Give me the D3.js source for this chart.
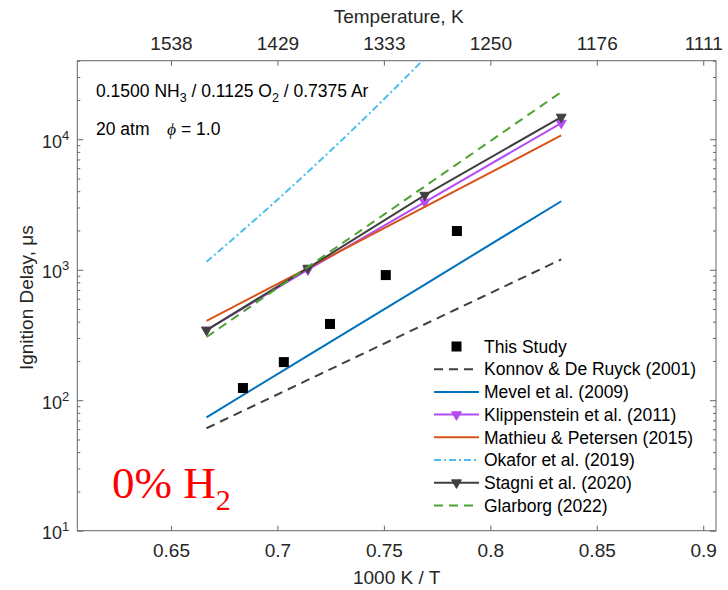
<!DOCTYPE html>
<html><head><meta charset="utf-8">
<script src="https://cdn.jsdelivr.net/npm/d3@7"></script>
<style>body{margin:0;background:#fff} svg{display:block}</style>
</head><body><svg id="c" width="728" height="590"></svg>
<script>
// ---------------- data ----------------
const invT = [0.6667, 0.7143, 0.7692, 0.8333];           // 1000 K / T (T = 1500, 1400, 1300, 1200 K)
const konnov = [61, 143, 382, 1200];
const mevel = [74, 220, 770, 3350];
const klippenstein = [345, 1000, 3300, 13300];
const mathieu = [405, 1030, 3030, 10700];
const stagni = [345, 1030, 3730, 14800];
const glarborg = [305, 1050, 4350, 23000];
const okaforInvT = [0.6667, 0.7, 0.7333, 0.7667, 0.8, 0.8333];
const okafor = [1150, 3440, 11000, 38000, 140000, 552000];
const expInvT = [0.6838, 0.7030, 0.7247, 0.7509, 0.7843];
const expTau = [124, 196, 384, 910, 1980];
const xTicks = [0.65, 0.7, 0.75, 0.8, 0.85, 0.9];
const xTickLabels = ["0.65", "0.7", "0.75", "0.8", "0.85", "0.9"];
const tempTickLabels = ["1538", "1429", "1333", "1250", "1176", "1111"];
const yTicks = [10, 100, 1000, 10000];
const yTickExps = ["1", "2", "3", "4"];
const legendNames = ["This Study", "Konnov & De Ruyck (2001)", "Mevel et al. (2009)", "Klippenstein et al. (2011)",
  "Mathieu & Petersen (2015)", "Okafor et al. (2019)", "Stagni et al. (2020)", "Glarborg (2022)"];

// ---------------- layout ----------------
const svg = d3.select("#c");
const pL = 77.3, pR = 716, pT = 60.7, pB = 530.7;
const x = d3.scaleLinear().domain([0.606, 0.906]).range([pL, pR]);
const y = d3.scaleLog().domain([10, 40000]).range([pB, pT]);
const font = "'Liberation Sans', Arial, Helvetica, sans-serif";
const serif = "'Liberation Serif', 'Times New Roman', serif";
const axisCol = "#666666", textCol = "#262626";

const series = [
  {name: legendNames[1], xs: invT, ys: konnov, color: "#404040", dash: "9,6"},
  {name: legendNames[2], xs: invT, ys: mevel, color: "#0072BD", dash: null},
  {name: legendNames[3], xs: invT, ys: klippenstein, color: "#B44CF5", dash: null, marker: true},
  {name: legendNames[4], xs: invT, ys: mathieu, color: "#D95319", dash: null},
  {name: legendNames[5], xs: okaforInvT, ys: okafor, color: "#4DBEEE", dash: "7,3,2,3", smooth: true},
  {name: legendNames[6], xs: invT, ys: stagni, color: "#404040", dash: null, marker: true},
  {name: legendNames[7], xs: invT, ys: glarborg, color: "#4DA331", dash: "9,6"}
];

svg.append("defs").append("clipPath").attr("id", "clip")
  .append("rect").attr("x", pL).attr("y", pT).attr("width", pR - pL).attr("height", pB - pT);

// ---------------- axes ----------------
function styleAxis(g) {
  g.select(".domain").remove();
  g.selectAll(".tick line").attr("stroke", axisCol).attr("stroke-width", 1);
  g.selectAll("text").attr("fill", textCol).style("font-family", font);
}
const bottomAx = svg.append("g").attr("transform", `translate(0,${pB})`)
  .call(d3.axisBottom(x).tickValues(xTicks).tickFormat((d, i) => xTickLabels[i]).tickSize(-5).tickPadding(13))
  .call(styleAxis);
bottomAx.selectAll("text").style("font-size", "19px");

const topAx = svg.append("g").attr("transform", `translate(0,${pT})`)
  .call(d3.axisTop(x).tickValues(xTicks).tickFormat((d, i) => tempTickLabels[i]).tickSize(-5).tickPadding(11))
  .call(styleAxis);
topAx.selectAll("text").style("font-size", "19px");

const minorY = [];
for (let e = 1; e <= 4; e++) for (let m = 2; m <= 9; m++) { const v = m * Math.pow(10, e); if (v <= 40000) minorY.push(v); }

const leftAx = svg.append("g").attr("transform", `translate(${pL},0)`)
  .call(d3.axisLeft(y).tickValues(yTicks).tickFormat("").tickSize(-6)).call(styleAxis);
svg.append("g").attr("transform", `translate(${pL},0)`)
  .call(d3.axisLeft(y).tickValues(minorY).tickFormat("").tickSize(-3)).call(styleAxis);
svg.append("g").attr("transform", `translate(${pR},0)`)
  .call(d3.axisRight(y).tickValues(yTicks).tickFormat("").tickSize(-6)).call(styleAxis);
svg.append("g").attr("transform", `translate(${pR},0)`)
  .call(d3.axisRight(y).tickValues(minorY).tickFormat("").tickSize(-3)).call(styleAxis);

// y tick labels with superscript exponents
leftAx.selectAll(".tick").each(function(d, i) {
  const t = d3.select(this).append("text").attr("x", -8).attr("y", 8)
    .attr("text-anchor", "end").attr("fill", textCol).style("font-family", font).style("font-size", "18px");
  t.append("tspan").text("10");
  t.append("tspan").attr("dy", -8).style("font-size", "13px").text(yTickExps[i]);
});

// box
svg.append("rect").attr("x", pL).attr("y", pT).attr("width", pR - pL).attr("height", pB - pT)
  .attr("fill", "none").attr("stroke", axisCol).attr("stroke-width", 1);

// axis titles
svg.append("text").attr("x", (pL + pR) / 2 + 2).attr("y", 23).attr("text-anchor", "middle")
  .attr("fill", textCol).style("font-family", font).style("font-size", "19px").text("Temperature, K");
svg.append("text").attr("x", (pL + pR) / 2).attr("y", 584).attr("text-anchor", "middle")
  .attr("fill", textCol).style("font-family", font).style("font-size", "19px").text("1000 K / T");
svg.append("text").attr("transform", `translate(33,${(pT + pB) / 2 + 2}) rotate(-90)`).attr("text-anchor", "middle")
  .attr("fill", textCol).style("font-family", font).style("font-size", "19px").text("Ignition Delay, μs");

// ---------------- lines ----------------
const plot = svg.append("g").attr("clip-path", "url(#clip)");
const tri = d3.symbol().type(d3.symbolTriangle).size(42);
series.forEach(s => {
  const pts = s.xs.map((v, i) => [v, s.ys[i]]);
  const gen = d3.line().x(d => x(d[0])).y(d => y(d[1]));
  if (s.smooth) gen.curve(d3.curveMonotoneX);
  plot.append("path").datum(pts)
    .attr("d", gen)
    .attr("fill", "none").attr("stroke", s.color).attr("stroke-width", 2)
    .attr("stroke-dasharray", s.dash);
  if (s.marker) {
    plot.selectAll(null).data(pts).join("path")
      .attr("d", tri).attr("transform", d => `translate(${x(d[0])},${y(d[1])}) rotate(180)`)
      .attr("fill", s.color).attr("stroke", s.color).attr("stroke-width", 1);
  }
});

// experimental squares
plot.selectAll(null).data(expInvT.map((v, i) => [v, expTau[i]])).join("rect")
  .attr("x", d => x(d[0]) - 5).attr("y", d => y(d[1]) - 5).attr("width", 10).attr("height", 10)
  .attr("fill", "#000");

// ---------------- annotations ----------------
const a1 = svg.append("text").attr("x", 96).attr("y", 97).attr("fill", "#000")
  .style("font-family", font).style("font-size", "17.5px").style("white-space", "pre");
a1.append("tspan").text("0.1500 NH");
a1.append("tspan").attr("dy", 5).style("font-size", "12.5px").text("3");
a1.append("tspan").attr("dy", -5).text(" / 0.1125 O");
a1.append("tspan").attr("dy", 5).style("font-size", "12.5px").text("2");
a1.append("tspan").attr("dy", -5).text(" / 0.7375 Ar");

const a2 = svg.append("text").attr("x", 96).attr("y", 135).attr("fill", "#000")
  .style("font-family", font).style("font-size", "17.5px").style("white-space", "pre");
a2.append("tspan").text("20 atm   ");
a2.append("tspan").attr("dx", 3).style("font-family", serif).style("font-style", "italic").text("ϕ");
a2.append("tspan").text(" = 1.0");

const h = svg.append("text").attr("x", 112).attr("y", 498).attr("fill", "#ff0000")
  .style("font-family", serif).style("font-size", "45px");
h.append("tspan").text("0% H");
h.append("tspan").attr("dy", 12).style("font-size", "30px").text("2");

// ---------------- legend ----------------
const lx0 = 434, lx1 = 479, ltx = 484, ly0 = 346.5, ldy = 22.7;
const lg = svg.append("g");
legendNames.forEach((name, i) => {
  const cy = ly0 + i * ldy;
  if (i === 0) {
    lg.append("rect").attr("x", (lx0 + lx1) / 2 - 5).attr("y", cy - 5).attr("width", 10).attr("height", 10).attr("fill", "#000");
  } else {
    const s = series[i - 1];
    lg.append("line").attr("x1", lx0).attr("x2", lx1).attr("y1", cy).attr("y2", cy)
      .attr("stroke", s.color).attr("stroke-width", 2).attr("stroke-dasharray", s.dash);
    if (s.marker) lg.append("path").attr("d", tri).attr("transform", `translate(${(lx0 + lx1) / 2},${cy}) rotate(180)`)
      .attr("fill", s.color).attr("stroke", s.color);
  }
  lg.append("text").attr("x", ltx).attr("y", cy + 6.2).attr("fill", "#000")
    .style("font-family", font).style("font-size", "17.5px").text(name);
});
</script></body></html>
